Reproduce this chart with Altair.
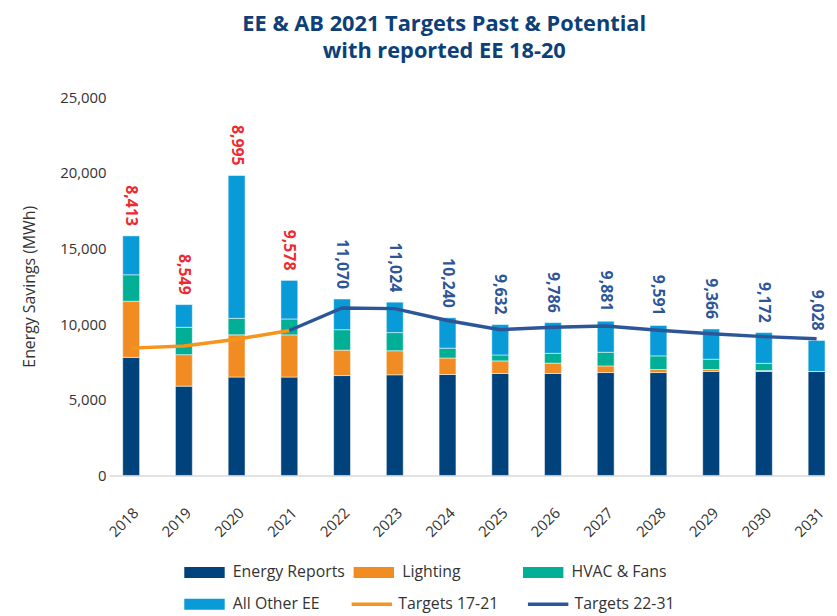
import altair as alt
import pandas as pd

# ---- data ----
years = [str(y) for y in range(2018, 2032)]
energy_reports = [7800, 5900, 6500, 6500, 6600, 6650, 6670, 6740, 6740, 6800, 6800, 6870, 6870, 6870]
lighting = [3710, 2080, 2790, 2790, 1680, 1590, 1090, 830, 680, 440, 200, 130, 60, 0]
hvac_fans = [1750, 1810, 1090, 1050, 1350, 1200, 650, 390, 650, 900, 900, 680, 480, 0]
all_other_ee = [2570, 1500, 9440, 2550, 2030, 2010, 2010, 2010, 2030, 2050, 2010, 2000, 2030, 2050]

targets_17_21_years = ["2018", "2019", "2020", "2021"]
targets_17_21 = [8413, 8549, 8995, 9578]
targets_22_31_years = ["2021", "2022", "2023", "2024", "2025", "2026", "2027", "2028", "2029", "2030", "2031"]
targets_22_31 = [9578, 11070, 11024, 10240, 9632, 9786, 9881, 9591, 9366, 9172, 9028]

label_values = [8413, 8549, 8995, 9578, 11070, 11024, 10240, 9632, 9786, 9881, 9591, 9366, 9172, 9028]

y_ticks = [0, 5000, 10000, 15000, 20000, 25000]

bar_series = ["Energy Reports", "Lighting", "HVAC & Fans", "All Other EE"]
bar_colors = ["#00427B", "#F08C22", "#00AF96", "#089BD8"]
line_series = ["Targets 17-21", "Targets 22-31"]
line_colors = ["#F7941D", "#2D5699"]

# ---- tables ----
bar_rows = []
for i, name in enumerate(bar_series):
    vals = [energy_reports, lighting, hvac_fans, all_other_ee][i]
    for y, v in zip(years, vals):
        bar_rows.append({"year": y, "series": name, "value": v, "idx": i})
bars_df = pd.DataFrame(bar_rows)

line_rows = []
for y, v in zip(targets_17_21_years, targets_17_21):
    line_rows.append({"year": y, "series": line_series[0], "value": v})
for y, v in zip(targets_22_31_years, targets_22_31):
    line_rows.append({"year": y, "series": line_series[1], "value": v})
lines_df = pd.DataFrame(line_rows)

totals = [a + b + c + d for a, b, c, d in zip(energy_reports, lighting, hvac_fans, all_other_ee)]
labels_df = pd.DataFrame({"year": years, "total": totals, "label": label_values,
                          "yr": [int(y) for y in years]})

FONT = "Open Sans"

x_enc = alt.X("year:N", title=None,
              scale=alt.Scale(paddingInner=0.68, paddingOuter=0.13, align=1),
              axis=alt.Axis(labelAngle=-45, labelAlign="right", labelBaseline="top",
                            labelFontSize=15, labelColor="#333333",
                            labelFont=FONT, ticks=False, domainColor="#D9D9D9",
                            domainWidth=1.5, labelPadding=30, labelOffset=0))
y_scale = alt.Scale(domain=[0, 25000], nice=False)

bar_legend = alt.Legend(
    title=None, orient="none", legendX=76, legendY=468, columns=3,
    direction="horizontal", gridAlign="all", columnPadding=8, rowPadding=12,
    padding=0, symbolSize=576, symbolType="M-1,-0.46H2.4V0.46H-1Z",
    symbolStrokeWidth=0, symbolOpacity=1,
    labelFont=FONT, labelFontSize=16, labelColor="#333333", labelOffset=25,
)
line_legend = alt.Legend(
    title=None, orient="none", legendX=243, legendY=498, columns=2,
    direction="horizontal", gridAlign="all", columnPadding=22,
    padding=0, symbolSize=576, symbolType="M-1,0H2.4",
    symbolStrokeWidth=3.5, symbolOpacity=1,
    labelFont=FONT, labelFontSize=16, labelColor="#333333", labelOffset=21,
)

bars = alt.Chart(bars_df).mark_bar(stroke="#FFFFFF", strokeWidth=0.5).encode(
    x=x_enc,
    y=alt.Y("sum(value):Q", scale=y_scale, stack="zero",
            title="Energy Savings (MWh)",
            axis=alt.Axis(values=y_ticks, labelExpr="format(datum.value, ',')",
                          grid=False, domain=False, ticks=False, labelFontSize=15,
                          labelFont=FONT, labelColor="#333333", labelPadding=3,
                          titleFont=FONT, titleFontSize=16, titleFontWeight="normal",
                          titleColor="#333333", titlePadding=22)),
    fill=alt.Fill("series:N", scale=alt.Scale(domain=bar_series, range=bar_colors),
                  legend=bar_legend),
    order=alt.Order("idx:Q", sort="ascending"),
)

lines = alt.Chart(lines_df).mark_line(strokeWidth=3.5).encode(
    x=alt.X("year:N"),
    y=alt.Y("value:Q", scale=y_scale),
    stroke=alt.Stroke("series:N", scale=alt.Scale(domain=line_series, range=line_colors),
                      legend=line_legend),
)

texts = alt.Chart(labels_df).mark_text(
    angle=90, align="right", baseline="middle", dx=-10, fontSize=16,
    fontWeight="bold", font=FONT,
).encode(
    x=alt.X("year:N"),
    y=alt.Y("total:Q", scale=y_scale),
    text=alt.Text("label:Q", format=","),
    color=alt.condition("datum.yr <= 2021", alt.value("#EE2A30"), alt.value("#2D5699")),
)

chart = alt.layer(bars, lines, texts).properties(
    width=723, height=382,
    autosize=alt.AutoSizeParams(type="none"),
    padding={"left": 102, "top": 87, "right": 4, "bottom": 145},
    title=alt.TitleParams(
        ["EE & AB 2021 Targets Past & Potential", "with reported EE 18-20"],
        font=FONT, fontSize=22, fontWeight="bold", color="#0D4079",
        anchor="middle", dx=-23, offset=27, lineHeight=28,
    ),
).configure_view(stroke=None)

chart.save("out.html", embed_options={"renderer": "svg", "actions": False})
